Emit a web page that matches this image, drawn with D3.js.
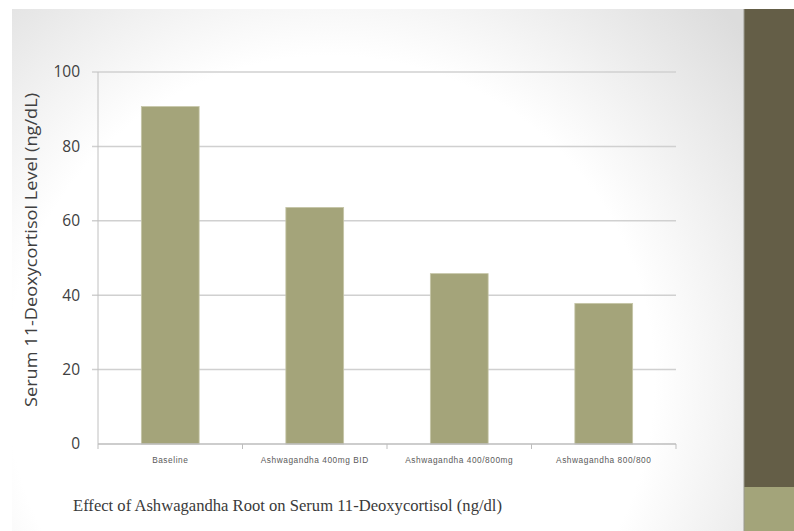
<!DOCTYPE html>
<html>
<head>
<meta charset="utf-8">
<script src="https://cdn.jsdelivr.net/npm/d3@7"></script>
<style>
  html, body { margin: 0; padding: 0; background: #ffffff; }
  svg { display: block; }
</style>
</head>
<body>
<svg id="chart" width="794" height="531"></svg>
<script>
// Serum 11-deoxycortisol by treatment group
const categories = ["Baseline", "Ashwagandha 400mg BID", "Ashwagandha 400/800mg", "Ashwagandha 800/800"];
const values = [90.7, 63.6, 45.8, 37.8];
const yTicks = [0, 20, 40, 60, 80, 100];
const yTitle = "Serum 11-Deoxycortisol Level (ng/dL)";
const caption = "Effect of Ashwagandha Root on Serum 11-Deoxycortisol (ng/dl)";

const svg = d3.select("#chart");
const defs = svg.append("defs");

// slide background: soft grey vignette towards the corners
const grad = defs.append("radialGradient")
  .attr("id", "bgGrad")
  .attr("gradientUnits", "userSpaceOnUse")
  .attr("cx", 330).attr("cy", 380).attr("r", 540);
grad.append("stop").attr("offset", "0").attr("stop-color", "#ffffff");
grad.append("stop").attr("offset", "0.6").attr("stop-color", "#ffffff");
grad.append("stop").attr("offset", "1").attr("stop-color", "#dcdcdc");

svg.append("rect").attr("x", 12).attr("y", 9).attr("width", 732).attr("height", 522)
  .attr("fill", "url(#bgGrad)");

// right-hand decorative band
svg.append("rect").attr("x", 744).attr("y", 9).attr("width", 50).attr("height", 478).attr("fill", "#645e47");
svg.append("rect").attr("x", 744).attr("y", 487).attr("width", 50).attr("height", 44).attr("fill", "#a3a47a");
svg.append("line").attr("x1", 744).attr("x2", 744).attr("y1", 9).attr("y2", 531)
  .attr("stroke", "#9a9a90").attr("stroke-width", 1);

// plot geometry
const x0 = 98, x1 = 676, yTop = 72, yBot = 444;

const x = d3.scaleBand().domain(categories).range([x0, x1])
  .paddingInner(0.6).paddingOuter(0.3);
const y = d3.scaleLinear().domain([0, 100]).range([yBot, yTop]);

// horizontal gridlines with small outside ticks
const grid = svg.append("g");
grid.selectAll("line").data(yTicks.filter(d => d > 0)).join("line")
  .attr("x1", x0 - 6).attr("x2", x1)
  .attr("y1", d => y(d)).attr("y2", d => y(d))
  .attr("stroke", "#d0d0d0").attr("stroke-width", 1.5);

// y axis line
svg.append("line").attr("x1", x0).attr("x2", x0).attr("y1", yTop).attr("y2", yBot)
  .attr("stroke", "#c0c0c0").attr("stroke-width", 1);

// y tick labels
const yAxis = d3.axisLeft(y).tickValues(yTicks).tickSize(0).tickPadding(18);
const yg = svg.append("g").attr("transform", `translate(${x0},0)`).call(yAxis);
yg.select(".domain").remove();
yg.selectAll("text")
  .attr("font-family", "'Open Sans', sans-serif")
  .attr("font-size", 15.5)
  .attr("fill", "#404040");

// bars
svg.append("g").selectAll("rect").data(values).join("rect")
  .attr("x", (d, i) => x(categories[i]))
  .attr("y", d => y(d))
  .attr("width", x.bandwidth())
  .attr("height", d => yBot - y(d))
  .attr("fill", "#a4a47a")
  .attr("stroke", "#c6c6a8")
  .attr("stroke-width", 0.8);

// x axis line and category boundary ticks
svg.append("line").attr("x1", x0).attr("x2", x1).attr("y1", yBot).attr("y2", yBot)
  .attr("stroke", "#bdbdbd").attr("stroke-width", 1.5);
const bounds = categories.map((c, i) => x0 + i * x.step()).concat([x1]);
svg.append("g").selectAll("line").data(bounds).join("line")
  .attr("x1", d => d).attr("x2", d => d)
  .attr("y1", yBot).attr("y2", yBot + 5)
  .attr("stroke", "#bdbdbd").attr("stroke-width", 1);

// category labels
svg.append("g").selectAll("text").data(categories).join("text")
  .attr("x", d => x(d) + x.bandwidth() / 2)
  .attr("y", 463)
  .attr("text-anchor", "middle")
  .attr("font-family", "'Liberation Sans', Arial, sans-serif")
  .attr("font-size", 8.3)
  .attr("letter-spacing", 0.55)
  .attr("fill", "#5a5a5a")
  .text(d => d);

// y axis title
svg.append("text")
  .attr("transform", `translate(37,250) rotate(-90)`)
  .attr("text-anchor", "middle")
  .attr("font-family", "'Open Sans', sans-serif")
  .attr("font-size", 16)
  .attr("fill", "#404040")
  .attr("textLength", 314)
  .attr("lengthAdjust", "spacingAndGlyphs")
  .text(yTitle);

// caption below the chart
svg.append("text")
  .attr("x", 73).attr("y", 511)
  .attr("font-family", "'Liberation Serif', 'DejaVu Serif', serif")
  .attr("font-size", 17)
  .attr("fill", "#3a3a3a")
  .attr("textLength", 429)
  .attr("lengthAdjust", "spacingAndGlyphs")
  .text(caption);
</script>
</body>
</html>
